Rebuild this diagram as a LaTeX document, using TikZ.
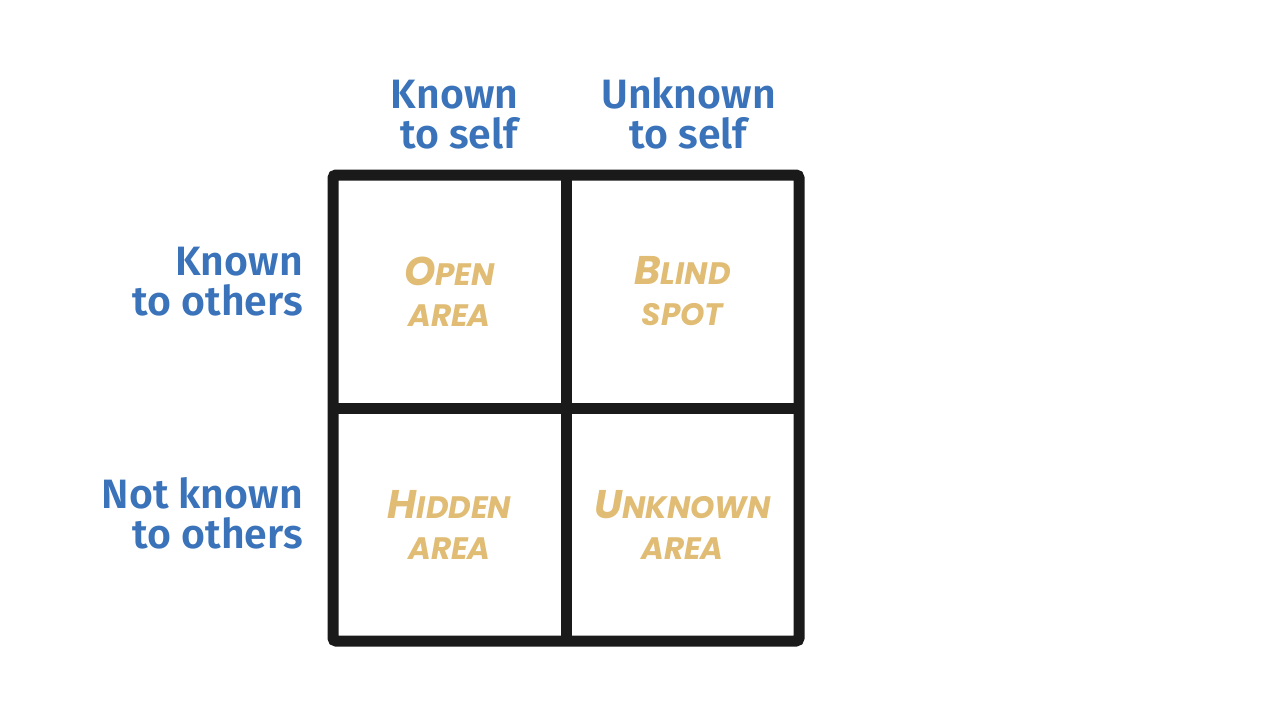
\documentclass[tikz,border=0pt]{standalone}
\usepackage{fontspec}
\setmainfont{Fira Sans}
\newfontfamily\labelfont{Fira Sans SemiBold}
\newfontfamily\handfont{Poppins}
\usetikzlibrary{positioning}
\definecolor{selfblue}{RGB}{58,115,185}
\definecolor{areagold}{RGB}{224,188,116}
\definecolor{gridblack}{RGB}{26,26,26}
\newcommand{\bigletter}[1]{{\fontsize{40}{41}\selectfont #1}}
\tikzset{
    x=1pt, y=-1pt, % one unit is one pixel, y grows downwards
    cell/.style={minimum size=233pt, inner sep=0pt, outer sep=0pt, align=center, text=areagold,
        font=\handfont\bfseries\itshape\fontsize{31}{41}\selectfont}, % the four panes
    toplabel/.style={inner sep=0pt, align=center, text=selfblue,
        font=\labelfont\fontsize{41}{40}\selectfont}, % column headings
    leftlabel/.style={toplabel, align=right}, % row headings
    frame/.style={line width=11pt, draw=gridblack}, % the thick grid lines
}

\begin{document}
\begin{tikzpicture}
    \useasboundingbox (0,0) rectangle (1280,720);
    \node[cell] (open) at (449.5,291.5) {\bigletter{O}PEN\\AREA};
    \node[cell, right=0pt of open] (blind) {\bigletter{B}LIND\\SPOT};
    \node[cell, below=0pt of open] (hidden) {\bigletter{H}IDDEN\\AREA};
    \node[cell, right=0pt of hidden] (unknown) {\bigletter{U}NKNOWN\\AREA};
    \draw[frame, rounded corners=3pt] (open.north west) rectangle (unknown.south east);
    \draw[frame] (open.north east) -- (hidden.south east);
    \draw[frame] (open.south west) -- (blind.south east);
    \node[toplabel, align=right, above=26pt of open, xshift=5pt] (selfknown) {Known\\to self};
    \node[toplabel, above=26pt of blind, xshift=6pt] (selfunknown) {Unknown\\to self};
    \node[leftlabel, left=30pt of open, yshift=10pt] (othersknown) {Known\\to others};
    \node[leftlabel, left=30pt of hidden, yshift=11pt] (othersnot) {Not known\\to others};
\end{tikzpicture}
\end{document}
